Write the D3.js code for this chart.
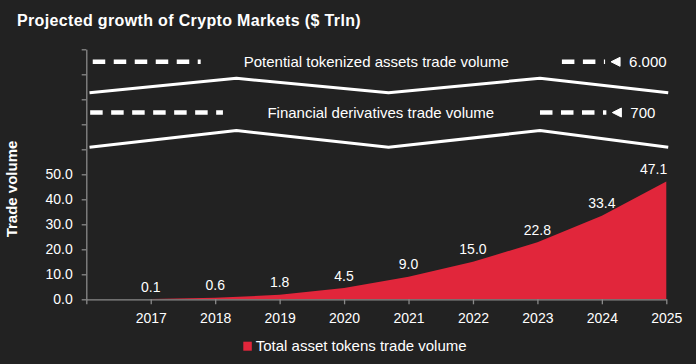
<!DOCTYPE html>
<html>
<head>
<meta charset="utf-8">
<script src="https://cdn.jsdelivr.net/npm/d3@7"></script>
<style>
  html, body { margin: 0; padding: 0; background: #222222; }
  svg { display: block; }
  text { font-family: "Liberation Sans", Arial, sans-serif; fill: #ffffff; }
</style>
</head>
<body>
<svg id="chart" width="696" height="364"></svg>
<script>
// ---------- data ----------
const title = "Projected growth of Crypto Markets ($ Trln)";
const yAxisTitle = "Trade volume";
const years = ["2017", "2018", "2019", "2020", "2021", "2022", "2023", "2024", "2025"];
const tradeVolume = [0.1, 0.6, 1.8, 4.5, 9.0, 15.0, 22.8, 33.4, 47.1];
const seriesName = "Total asset tokens trade volume";
const yTickValues = [0, 10, 20, 30, 40, 50, 60, 70, 80, 90, 100];
const yLabelMax = 50;
// broken-axis annotations (values far above the plotted scale)
const breakLabels = ["Potential tokenized assets trade volume", "Financial derivatives trade volume"];
const breakValues = ["6.000", "700"];

// ---------- layout ----------
const W = 696, H = 364;
const plotLeft = 86.3, plotRight = 666.3, plotTop = 49.3, plotBottom = 299.3;
const red = "#e1263b";
const axisColor = "#8a8a8a";

const svg = d3.select("#chart");
svg.append("rect").attr("width", W).attr("height", H).attr("fill", "#222222");

const xDomain = [""].concat(years);
const x = d3.scalePoint().domain(xDomain).range([plotLeft, plotRight]).padding(0);
const y = d3.scaleLinear().domain([0, 100]).range([plotBottom, plotTop]);
// continuous index scale for annotation shapes (category units)
const xi = d3.scaleLinear().domain([0, years.length]).range([plotLeft, plotRight]);

// title
svg.append("text").attr("x", 17).attr("y", 26)
  .style("font-size", "16px").style("font-weight", "bold")
  .style("letter-spacing", "0.35px")
  .text(title);

// y axis title
svg.append("text")
  .attr("transform", `translate(17,189) rotate(-90)`)
  .attr("text-anchor", "middle")
  .style("font-size", "15px").style("font-weight", "bold")
  .text(yAxisTitle);

// area
const area = d3.area()
  .x((d, i) => x(years[i]))
  .y0(y(0))
  .y1(d => y(d));
svg.append("path").datum(tradeVolume).attr("d", area).attr("fill", red);

// axes
const yAxis = d3.axisLeft(y)
  .tickValues(yTickValues)
  .tickSize(4.6).tickSizeOuter(0).tickPadding(9)
  .tickFormat(d => d <= yLabelMax ? d3.format(".1f")(d) : "");
const gy = svg.append("g").attr("transform", `translate(${plotLeft},0)`).call(yAxis);

const xAxis = d3.axisBottom(x)
  .tickSize(5).tickSizeOuter(0).tickPadding(9);
const gx = svg.append("g").attr("transform", `translate(0,${plotBottom})`).call(xAxis);

[gx, gy].forEach(g => {
  g.select(".domain").attr("stroke", axisColor).attr("stroke-width", 1.3);
  g.selectAll(".tick line").attr("stroke", axisColor).attr("stroke-width", 1.3);
  g.selectAll(".tick text").attr("fill", "#ffffff")
    .style("font-size", "14px").style("font-family", "'Liberation Sans', Arial, sans-serif");
});

// data labels
const labels = svg.append("g");
tradeVolume.forEach((v, i) => {
  const t = labels.append("text")
    .attr("x", x(years[i])).attr("y", y(v) - 7.5)
    .attr("text-anchor", "middle")
    .style("font-size", "14px")
    .text(d3.format(".1f")(v));
  const w = t.node().getComputedTextLength();
  if (x(years[i]) + w / 2 > plotRight + 1) {
    t.attr("text-anchor", "end").attr("x", plotRight + 1);
  }
});

// broken-axis annotations
const dashLevels = [95.0, 74.7];            // y-value of each dashed line
const zigLows = [82.6, 60.8];               // y-value of zigzag troughs
const zigHighs = [88.4, 67.5];              // y-value of zigzag peaks
const zigIdx = [0.05, 2.33, 4.69, 7.04, 9.03];
const leftDash = [[0.1, 1.775], [0.06, 2.12]];
const rightDash = [[7.38, 8.05], [7.04, 8.07]];
const textCenters = [4.5, 4.57];
const zigLine = d3.line().x(d => xi(d[0])).y(d => y(d[1]));

breakLabels.forEach((lab, k) => {
  const yy = y(dashLevels[k]);
  const pts = zigIdx.map((ix, j) => [ix, j % 2 === 0 ? zigLows[k] : zigHighs[k]]);
  svg.append("path").attr("d", zigLine(pts))
    .attr("fill", "none").attr("stroke", "#ffffff").attr("stroke-width", 3)
    .attr("stroke-linejoin", "round");
  [leftDash[k], rightDash[k]].forEach(seg => {
    svg.append("line")
      .attr("x1", xi(seg[0])).attr("x2", xi(seg[1]))
      .attr("y1", yy).attr("y2", yy)
      .attr("stroke", "#ffffff").attr("stroke-width", 4.5)
      .attr("stroke-dasharray", "12.5,8.5");
  });
  const ax = xi(rightDash[k][1]) + 6;
  svg.append("path")
    .attr("d", `M${ax + 9},${yy - 4.5} L${ax},${yy} L${ax + 9},${yy + 4.5} Z`)
    .attr("fill", "#ffffff").attr("stroke", "#ffffff").attr("stroke-width", 1)
    .attr("stroke-linejoin", "round");
  svg.append("text").attr("x", ax + 18).attr("y", yy + 5.5)
    .style("font-size", "15px").text(breakValues[k]);
  svg.append("text").attr("x", xi(textCenters[k])).attr("y", yy + 5)
    .attr("text-anchor", "middle")
    .style("font-size", "15px").text(lab);
});

// legend
const lg = svg.append("g").attr("transform", "translate(243.3,341.7)");
lg.append("rect").attr("width", 8.5).attr("height", 9).attr("fill", red);
lg.append("text").attr("x", 12.4).attr("y", 9.3)
  .style("font-size", "15px").text(seriesName);
</script>
</body>
</html>
